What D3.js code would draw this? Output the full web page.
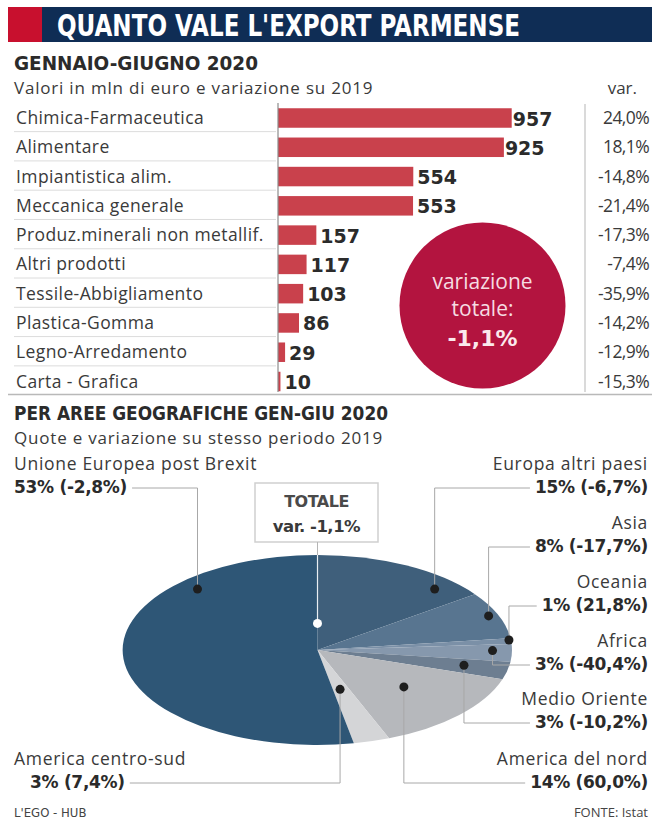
<!DOCTYPE html>
<html>
<head>
<meta charset="utf-8">
<script src="https://cdn.jsdelivr.net/npm/d3@7"></script>
<style>
  body { margin: 0; background: #fff; }
  svg { display: block; }
</style>
</head>
<body>
<div id="chart"></div>
<script>
// export per sector, gen-giu 2020 (mln euro) and change on 2019 (%)
const categories = ["Chimica-Farmaceutica", "Alimentare", "Impiantistica alim.", "Meccanica generale",
  "Produz.minerali non metallif.", "Altri prodotti", "Tessile-Abbigliamento", "Plastica-Gomma",
  "Legno-Arredamento", "Carta - Grafica"];
const values = [957, 925, 554, 553, 157, 117, 103, 86, 29, 10];
const variations = [24.0, 18.1, -14.8, -21.4, -17.3, -7.4, -35.9, -14.2, -12.9, -15.3];
const totalChange = -1.1;

// geographic areas: share (%) and change on same period 2019 (%)
const regions = ["Europa altri paesi", "Asia", "Oceania", "Africa", "Medio Oriente",
  "America del nord", "America centro-sud", "Unione Europea post Brexit"];
const shares = [15, 8, 1, 3, 3, 14, 3, 53];
const regionChanges = [-6.7, -17.7, 21.8, -40.4, -10.2, 60.0, 7.4, -2.8];
const sliceColors = ["#3f5f7b", "#587590", "#7b90a7", "#8698ad", "#6d7e91", "#b6b8bc", "#d4d5d7", "#2e5676"];

// where each label sits and where its dot lands inside the slice (t along the arc, r radius)
const labelLayout = [
  { side: "right", y: 470, t: 0.80, r: 0.88 },
  { side: "right", y: 529, t: 0.48, r: 0.95 },
  { side: "right", y: 588, t: 0.30, r: 0.99 },
  { side: "right", y: 647, t: 0.37, r: 0.90 },
  { side: "right", y: 705, t: 0.45, r: 0.77 },
  { side: "right", y: 765, t: 0.46, r: 0.59 },
  { side: "left", y: 765, t: 0.55, r: 0.43, indent: 16 },
  { side: "left", y: 470, t: 0.77, r: 0.89 }
];

const W = 652, H = 823;
const sans = "'Open Sans', 'Noto Sans', sans-serif";
const bold = "'DejaVu Sans', sans-serif";
const narrow = "'Liberation Sans Narrow', 'DejaVu Sans Condensed', 'Roboto Condensed', sans-serif";

const it = d3.formatLocale({ decimal: ",", thousands: ".", grouping: [3], currency: ["€", ""], minus: "-" });
const pct = v => it.format(".1f")(v) + "%";

const svg = d3.select("#chart").append("svg")
  .attr("width", W)
  .attr("height", H);

// header bar
svg.append("rect").attr("x", 8).attr("y", 7).attr("width", 34).attr("height", 35).attr("fill", "#c8102e");
svg.append("rect").attr("x", 42).attr("y", 7).attr("width", W - 42).attr("height", 35).attr("fill", "#0f2d55");
svg.append("text")
  .attr("x", 57).attr("y", 36)
  .attr("textLength", 463).attr("lengthAdjust", "spacingAndGlyphs")
  .style("font-family", narrow).style("font-weight", "bold").style("font-size", "30px")
  .attr("fill", "#fff")
  .text("QUANTO VALE L'EXPORT PARMENSE");

// section 1 titles
svg.append("text")
  .attr("x", 14).attr("y", 70)
  .attr("textLength", 244).attr("lengthAdjust", "spacingAndGlyphs")
  .style("font-family", narrow).style("font-weight", "bold").style("font-size", "20px")
  .attr("fill", "#2b2b2b")
  .text("GENNAIO-GIUGNO 2020");
svg.append("text")
  .attr("x", 14).attr("y", 93.5)
  .style("font-family", sans).style("font-size", "17px").attr("fill", "#3a3a3a")
  .attr("letter-spacing", "0.8")
  .text("Valori in mln di euro e variazione su 2019");
svg.append("text")
  .attr("x", 637).attr("y", 93.5).attr("text-anchor", "end")
  .style("font-family", sans).style("font-size", "17px").attr("fill", "#3a3a3a")
  .text("var.");

// bar chart
const x = d3.scaleLinear().domain([0, 957]).range([278, 511.7]);
const y = d3.scalePoint().domain(categories).range([118, 381.5]);
const barH = 19.5;
const rowStep = y.step();

const rows = svg.append("g");
rows.selectAll("line.sep")
  .data(categories.slice(0, -1))
  .enter().append("line")
  .attr("x1", 14).attr("x2", 276)
  .attr("y1", d => y(d) + rowStep / 2 - 1)
  .attr("y2", d => y(d) + rowStep / 2 - 1)
  .attr("stroke", "#dcdcdc").attr("stroke-width", 1);

rows.selectAll("text.cat")
  .data(categories)
  .enter().append("text")
  .attr("x", 16).attr("y", d => y(d) + 6)
  .style("font-family", sans).style("font-size", "17.5px").attr("fill", "#3a3a3a")
  .attr("letter-spacing", "0.4")
  .text(d => d);

rows.selectAll("rect.bar")
  .data(values)
  .enter().append("rect")
  .attr("x", x(0))
  .attr("y", (d, i) => y(categories[i]) - barH / 2)
  .attr("width", d => x(d) - x(0))
  .attr("height", barH)
  .attr("fill", "#c9414c");

rows.selectAll("text.val")
  .data(values)
  .enter().append("text")
  .attr("x", d => x(d) + (d > 900 ? 1 : 4))
  .attr("y", (d, i) => y(categories[i]) + 7.5)
  .style("font-family", bold).style("font-weight", "bold").style("font-size", "19px")
  .attr("fill", "#2b2b2b")
  .text(d => d);

rows.selectAll("text.var")
  .data(variations)
  .enter().append("text")
  .attr("x", 649).attr("text-anchor", "end")
  .attr("y", (d, i) => y(categories[i]) + 6)
  .style("font-family", sans).style("font-size", "17.5px").attr("fill", "#3a3a3a")
  .attr("letter-spacing", "-0.6")
  .text(d => pct(d));

// axis + var column rule
svg.append("line").attr("x1", 278).attr("x2", 278).attr("y1", 103).attr("y2", 392)
  .attr("stroke", "#8c8c8c").attr("stroke-width", 1.2);
svg.append("line").attr("x1", 585).attr("x2", 585).attr("y1", 104).attr("y2", 392)
  .attr("stroke", "#b5b5b5").attr("stroke-width", 1);
svg.append("line").attr("x1", 8).attr("x2", W).attr("y1", 394.5).attr("y2", 394.5)
  .attr("stroke", "#b9b9b9").attr("stroke-width", 1.5);

// total change bubble
const bubble = svg.append("g").attr("transform", "translate(482.5,305.5)");
bubble.append("circle").attr("r", 83).attr("fill", "#b3143f");
bubble.append("text").attr("text-anchor", "middle").attr("y", -17)
  .style("font-family", sans).style("font-size", "21px").attr("fill", "#f6dce2")
  .text("variazione");
bubble.append("text").attr("text-anchor", "middle").attr("y", 10)
  .style("font-family", sans).style("font-size", "21px").attr("fill", "#f6dce2")
  .text("totale:");
bubble.append("text").attr("text-anchor", "middle").attr("y", 40)
  .style("font-family", bold).style("font-weight", "bold").style("font-size", "22px").attr("fill", "#fbe9ed")
  .text(pct(totalChange));

// section 2 titles
svg.append("text")
  .attr("x", 14).attr("y", 420)
  .attr("textLength", 374).attr("lengthAdjust", "spacingAndGlyphs")
  .style("font-family", narrow).style("font-weight", "bold").style("font-size", "20px")
  .attr("fill", "#2b2b2b")
  .text("PER AREE GEOGRAFICHE GEN-GIU 2020");
svg.append("text")
  .attr("x", 14).attr("y", 443.5)
  .style("font-family", sans).style("font-size", "17px").attr("fill", "#3a3a3a")
  .attr("letter-spacing", "0.8")
  .text("Quote e variazione su stesso periodo 2019");

// pie drawn on a unit circle and squashed into an ellipse
const cx = 317.5, cy = 650, rx = 194.5, ry = 95;
const pie = d3.pie().sort(null).value(d => d)(shares);
const arc = d3.arc().innerRadius(0).outerRadius(1);

svg.append("g")
  .attr("transform", `translate(${cx},${cy}) scale(${rx},${ry})`)
  .selectAll("path")
  .data(pie)
  .enter().append("path")
  .attr("d", arc)
  .attr("fill", (d, i) => sliceColors[i]);

function ellipsePoint(angle, r) {
  return [cx + rx * r * Math.sin(angle), cy - ry * r * Math.cos(angle)];
}

// TOTALE box
const boxX = 255, boxY = 483, boxW = 123, boxH = 59;
svg.append("rect").attr("x", boxX).attr("y", boxY).attr("width", boxW).attr("height", boxH)
  .attr("fill", "#fff").attr("stroke", "#cfcfcf").attr("stroke-width", 1.5);
svg.append("text").attr("x", boxX + boxW / 2).attr("y", 507).attr("text-anchor", "middle")
  .style("font-family", bold).style("font-weight", "bold").style("font-size", "16px").attr("fill", "#4a4a4a")
  .attr("letter-spacing", "-0.5")
  .text("TOTALE");
svg.append("text").attr("x", boxX + boxW / 2).attr("y", 532).attr("text-anchor", "middle")
  .style("font-family", bold).style("font-weight", "bold").style("font-size", "16.5px").attr("fill", "#3a3a3a")
  .attr("letter-spacing", "-0.5")
  .text("var. " + pct(totalChange));

const centerDot = ellipsePoint(0, 0.28);
svg.append("line").attr("x1", cx).attr("x2", cx).attr("y1", boxY + boxH).attr("y2", cy - ry)
  .attr("stroke", "#b5b5b5").attr("stroke-width", 1);
svg.append("line").attr("x1", cx).attr("x2", cx).attr("y1", cy - ry).attr("y2", centerDot[1])
  .attr("stroke", "#e8eef3").attr("stroke-width", 1.2);
svg.append("circle").attr("cx", centerDot[0]).attr("cy", centerDot[1]).attr("r", 4.5).attr("fill", "#fff");

// labels, leader lines and dots
const labels = svg.append("g");
pie.forEach((p, i) => {
  const L = labelLayout[i];
  const a = p.startAngle + L.t * (p.endAngle - p.startAngle);
  const dot = ellipsePoint(a, L.r);
  const right = L.side === "right";
  const tx = right ? 648 : 14;
  const anchor = right ? "end" : "start";

  labels.append("text")
    .attr("x", tx).attr("y", L.y).attr("text-anchor", anchor)
    .style("font-family", sans).style("font-size", "17.5px").attr("fill", "#3a3a3a")
    .attr("letter-spacing", "0.7")
    .text(regions[i]);
  const x2 = right ? tx : tx + (L.indent || 0);
  const line2 = labels.append("text")
    .attr("x", x2).attr("y", L.y + 23).attr("text-anchor", anchor)
    .style("font-family", bold).style("font-weight", "bold").style("font-size", "17px")
    .attr("fill", "#2b2b2b").attr("letter-spacing", "-0.3")
    .text(shares[i] + "% (" + pct(regionChanges[i]) + ")");
  const w = line2.node().getComputedTextLength();
  const edge = right ? x2 - w - 5 : x2 + w + 5;
  const yLine = L.y + 18;

  labels.append("path")
    .attr("d", `M${dot[0]},${dot[1]}V${yLine}H${edge}`)
    .attr("fill", "none").attr("stroke", "#a8a8a8").attr("stroke-width", 1);
  labels.append("circle")
    .attr("cx", dot[0]).attr("cy", dot[1]).attr("r", 4.5).attr("fill", "#1e1e1e");
});

// footer
svg.append("text").attr("x", 14).attr("y", 817)
  .style("font-family", narrow).style("font-size", "13px").attr("fill", "#444")
  .text("L'EGO - HUB");
svg.append("text").attr("x", 648).attr("y", 817).attr("text-anchor", "end")
  .style("font-family", sans).style("font-size", "13px").attr("fill", "#444")
  .text("FONTE: Istat");
</script>
</body>
</html>
